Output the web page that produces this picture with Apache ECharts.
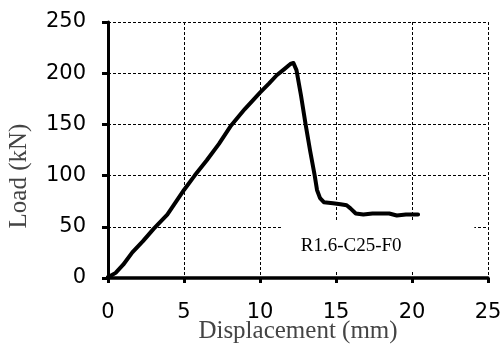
<!DOCTYPE html>
<html>
<head>
<meta charset="utf-8">
<script src="https://cdn.jsdelivr.net/npm/echarts@6/dist/echarts.min.js"></script>
<style>
  html, body { margin: 0; padding: 0; background: #fff; }
  #chart { width: 502px; height: 350px; }
</style>
</head>
<body>
<div id="chart"></div>
<script>
// displacement (mm) and load (kN)
var dispMm = [0, 0.15, 0.5, 1.0, 1.6, 2.3, 3.0, 3.9, 5.0, 5.7, 6.5, 7.3, 8.1, 9.0, 10.0,
  10.6, 11.1, 11.6, 12.0, 12.2, 12.4, 12.7, 13.0, 13.3, 13.6, 13.75, 13.95, 14.2,
  14.8, 15.3, 15.7, 15.95, 16.3, 16.8, 17.4, 18.0, 18.5, 19.0, 19.6, 20.0, 20.4];
var loadKn = [1, 2, 5, 13, 25, 36, 48, 62, 86, 100, 115, 131, 149, 165, 181,
  190, 198, 204, 209, 210, 203, 178, 150, 124, 100, 86, 78, 74,
  73, 72, 71, 68, 63, 62, 63, 63, 63, 61, 62, 62, 62];
var specimenName = "R1.6-C25-F0";

var chart = echarts.init(document.getElementById("chart"));

var points = dispMm.map(function (d, i) {
  return [d, loadKn[i]];
});

var dashed = {
  show: true,
  showMinLine: false,
  lineStyle: { color: "#000", width: 1, type: [3, 2] }
};

chart.setOption({
  animation: false,
  grid: { left: 108, right: 14, top: 22, bottom: 72, outerBoundsMode: "none", containLabel: false },
  xAxis: {
    type: "value",
    min: 0,
    max: 25,
    interval: 5,
    name: "Displacement (mm)",
    nameLocation: "middle",
    nameGap: 41,
    nameMoveOverlap: false,
    nameTextStyle: { fontFamily: "Liberation Serif", fontSize: 25, color: "#444" },
    axisLine: { show: true, lineStyle: { color: "#000", width: 3.5 } },
    axisTick: { show: true, length: 5, lineStyle: { color: "#000", width: 3 } },
    axisLabel: { margin: 24, fontFamily: "DejaVu Sans", fontSize: 21, color: "#000" },
    splitLine: dashed
  },
  yAxis: {
    type: "value",
    min: 0,
    max: 250,
    interval: 50,
    name: "Load (kN)",
    nameLocation: "middle",
    nameGap: 76,
    nameMoveOverlap: false,
    nameTextStyle: {
      fontFamily: "Liberation Serif",
      fontSize: 25,
      color: "#444",
      padding: [0, 52, 0, 0]
    },
    axisLine: { show: true, lineStyle: { color: "#000", width: 3 } },
    axisTick: { show: true, length: 6, lineStyle: { color: "#000", width: 3 } },
    axisLabel: { margin: 22, fontFamily: "DejaVu Sans", fontSize: 21, color: "#000" },
    splitLine: dashed
  },
  series: [
    {
      type: "line",
      data: points,
      showSymbol: false,
      lineStyle: { color: "#000", width: 4, join: "round", cap: "round" },
      z: 5,
      markArea: {
        silent: true,
        itemStyle: { color: "#fff" },
        label: {
          show: true,
          position: "inside",
          offset: [-27, 0],
          formatter: specimenName,
          fontFamily: "Liberation Serif",
          fontSize: 19,
          color: "#000"
        },
        data: [[{ coord: [11.45, 56] }, { coord: [24.1, 6.5] }]]
      }
    }
  ]
});
</script>
</body>
</html>
